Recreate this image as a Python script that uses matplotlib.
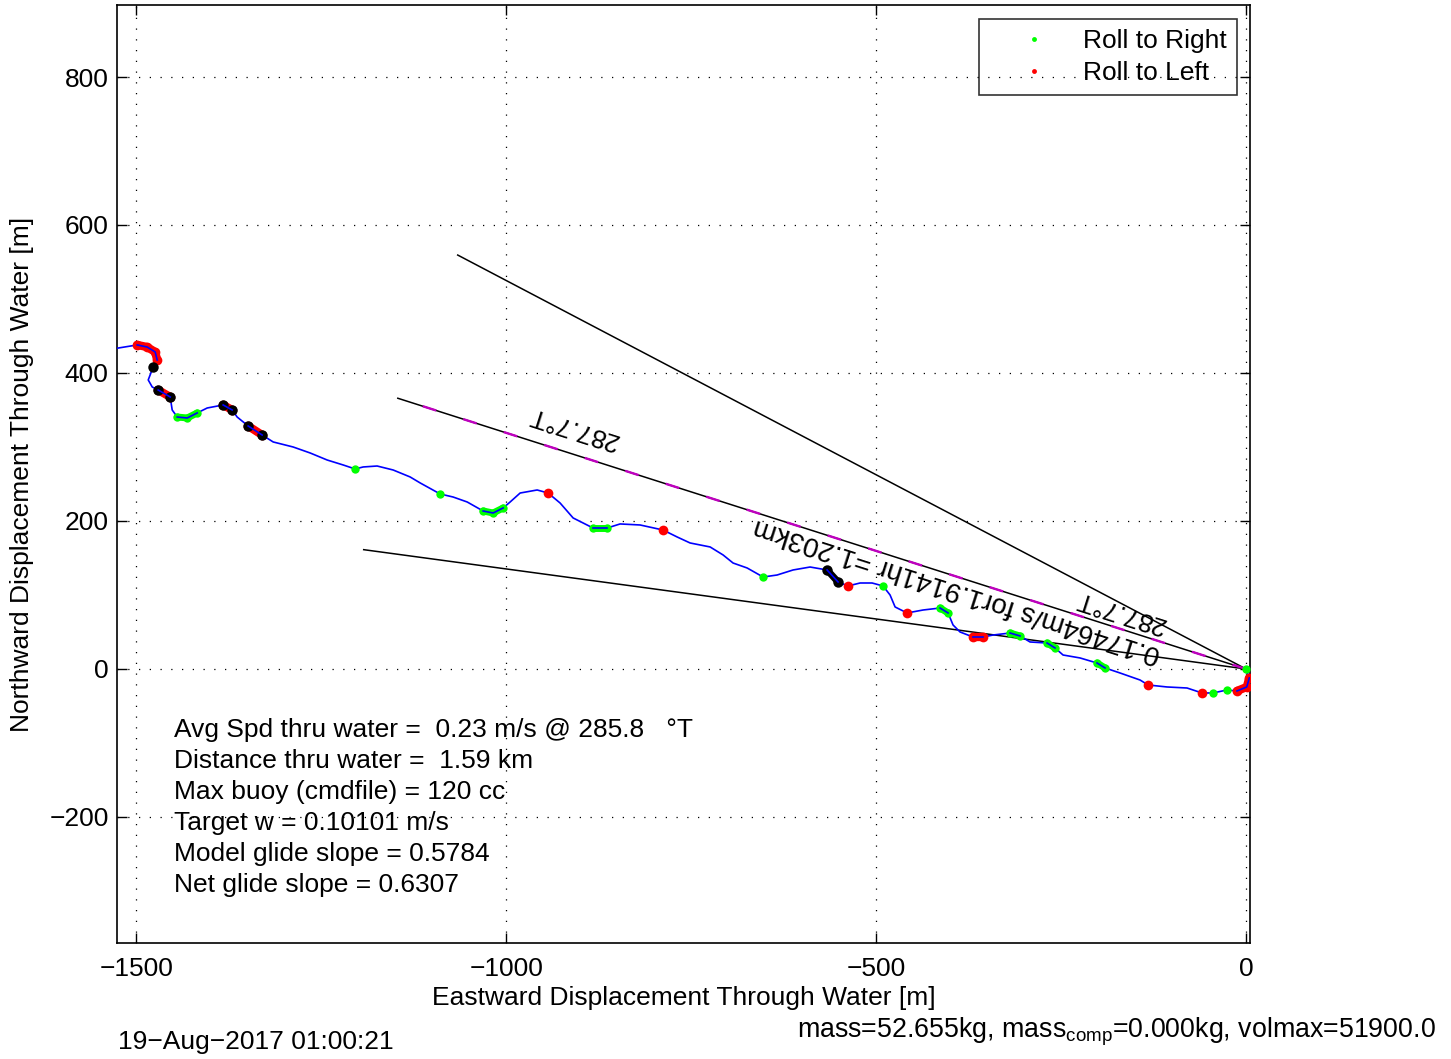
import numpy as np
import matplotlib
matplotlib.use("Agg")
import matplotlib.pyplot as plt
from matplotlib.lines import Line2D

plt.rcParams["font.family"] = ["Liberation Sans", "DejaVu Sans"]
plt.rcParams["font.size"] = 19
plt.rcParams["mathtext.fontset"] = "custom"
plt.rcParams["mathtext.rm"] = "Liberation Sans"

# ----------------------------------------------------------------------
# Data: glider track through water (m), west -> east
# ----------------------------------------------------------------------
track_x = [-1535.0, -1498.7, -1485.2, -1474.4, -1471.7, -1477.1, -1483.8, -1478.4,
           -1470.3, -1454.1, -1451.4, -1444.6, -1431.1, -1417.6, -1404.1, -1382.5,
           -1370.3, -1363.6, -1348.7, -1329.8, -1314.9, -1287.9, -1264.9, -1241.9,
           -1220.3, -1204.1, -1193.3, -1174.4, -1152.7, -1129.8, -1116.2, -1089.2,
           -1071.7, -1052.7, -1031.1, -1017.6, -1004.1, -994.6, -981.1, -958.1,
           -943.3, -927.1, -909.5, -882.5, -863.5, -846.0, -818.9, -787.9,
           -768.9, -751.4, -724.3, -706.8, -693.3, -674.3, -652.7, -633.8,
           -612.2, -589.2, -566.2, -551.4, -537.9, -521.6, -505.4, -490.6,
           -481.1, -474.3, -458.1, -436.5, -413.5, -402.7, -396.0, -386.5,
           -368.9, -355.4, -341.9, -318.9, -305.4, -291.9, -268.9, -258.1,
           -247.3, -224.3, -201.4, -190.5, -170.3, -143.2, -132.4, -106.8,
           -79.7, -59.5, -44.6, -25.7, -12.2, 1.0, 4.5, 0.0]
track_y = [432.0, 437.9, 435.1, 428.4, 417.6, 408.1, 390.6, 381.1,
           377.0, 367.6, 350.0, 340.5, 339.2, 346.0, 352.7, 356.8,
           350.0, 340.5, 328.4, 316.2, 306.8, 300.0, 291.9, 282.4,
           275.7, 270.3, 273.0, 274.3, 268.9, 259.5, 251.4, 236.5,
           232.4, 225.7, 213.5, 210.8, 217.6, 225.7, 237.8, 241.9,
           237.8, 224.3, 204.1, 190.5, 190.5, 196.0, 194.6, 187.8,
           178.4, 170.3, 164.9, 154.1, 143.2, 136.5, 124.3, 127.0,
           133.8, 137.8, 133.8, 117.6, 112.2, 116.2, 116.2, 112.2,
           100.0, 83.8, 75.7, 79.7, 82.4, 75.7, 59.5, 50.0,
           43.2, 43.2, 45.9, 48.6, 44.6, 36.5, 35.1, 28.4,
           18.9, 14.9, 8.1, 1.4, -5.4, -14.9, -21.6, -24.3,
           -25.7, -32.4, -32.4, -28.4, -29.7, -24.3, -12.0, 0.0]

# roll events as (first, last) index ranges into the track
roll_right = [(11, 13), (25, 25), (31, 31), (34, 36), (43, 44), (54, 54),
              (63, 63), (68, 69), (75, 76), (78, 79), (82, 83), (90, 90),
              (91, 91), (95, 95)]
roll_left = [(1, 4), (8, 9), (15, 16), (18, 19), (40, 40), (47, 47), (60, 60),
             (66, 66), (72, 73), (86, 86), (89, 89), (92, 94)]
roll_none = [(5, 5), (8, 8), (9, 9), (15, 15), (16, 16), (18, 18), (19, 19),
             (58, 59)]

heading = 287.7        # deg true
spread = 10.0          # deg either side
run_dist = 1203.4      # m  (0.17464 m/s for 1.9141 hr)

summary = ["Avg Spd thru water =  0.23 m/s @ 285.8   \u00b0T",
           "Distance thru water =  1.59 km",
           "Max buoy (cmdfile) = 120 cc",
           "Target w = 0.10101 m/s",
           "Model glide slope = 0.5784",
           "Net glide slope = 0.6307"]

x_ticks = [-1500, -1000, -500, 0]
y_ticks = [-200, 0, 200, 400, 600, 800]

# ----------------------------------------------------------------------
fig = plt.figure(figsize=(14.51, 10.59), dpi=100)
ax = fig.add_axes([117 / 1451, 1 - 943 / 1059, 1133 / 1451, 938 / 1059])

tx = np.array(track_x)
ty = np.array(track_y)

# heading fan
for dh in (-spread, spread):
    h = np.deg2rad(heading + dh)
    ax.plot([0, run_dist * np.sin(h)], [0, run_dist * np.cos(h)],
            color="k", lw=1.1, zorder=2)
h = np.deg2rad(heading)
hx, hy = run_dist * np.sin(h), run_dist * np.cos(h)
ax.plot([0, hx], [0, hy], color="k", lw=1.1, zorder=2)
ax.plot([0, hx], [0, hy], color="m", lw=1.7, ls=(0, (6, 12)), zorder=2)

ax.plot(tx, ty, color="b", lw=1.2, zorder=3)


def draw_rolls(ranges, color, lw, ms):
    for a, b in ranges:
        ax.plot(tx[a:b + 1], ty[a:b + 1], color=color, lw=lw, marker="o",
                ms=ms, mec="none", solid_capstyle="round", zorder=4)
        ax.plot(tx[a:b + 1], ty[a:b + 1], color="b", lw=1.2, zorder=5)


draw_rolls(roll_right, (0, 1, 0), 5, 6)
draw_rolls(roll_left, (1, 0, 0), 6, 7)
draw_rolls(roll_none, "k", 5, 7.5)

rot = (90 - heading) % 360
ax.text(-909.5, 325.7, "287.7\u00b0T", rotation=rot, ha="center", va="center",
        rotation_mode="anchor")
ax.text(-390.6, 106.8, "0.17464m/s for1.9141hr =1.203km", rotation=rot,
        ha="center", va="center", rotation_mode="anchor", fontsize=20)
ax.text(-170.3, 77.0, "287.7\u00b0T", rotation=rot, ha="center", va="center",
        rotation_mode="anchor")

for i, line in enumerate(summary):
    ax.text(-1448.7, -82.4 - 41.9 * i, line, ha="left", va="center")

ax.set_xlim(-1526, 5.4)
ax.set_ylim(-370.3, 897.3)
ax.set_xticks(x_ticks)
ax.set_yticks(y_ticks)
ax.tick_params(direction="in", length=7.5, width=1, top=True, right=True)
ax.tick_params(axis="x", pad=10)
ax.tick_params(axis="y", pad=6)
ax.grid(True, color="k", ls=(0, (1, 7.6)), lw=0.9)
for s in ax.spines.values():
    s.set_linewidth(1.2)

ax.set_xlabel("Eastward Displacement Through Water [m]", labelpad=4)
ax.set_ylabel("Northward Displacement Through Water [m]", labelpad=11)

handles = [Line2D([], [], ls="none", marker="o", ms=3.5, mec="none",
                  color=(0, 1, 0), label="Roll to Right"),
           Line2D([], [], ls="none", marker="o", ms=3.5, mec="none",
                  color=(1, 0, 0), label="Roll to Left")]
leg = ax.legend(handles=handles, loc="upper right",
                bbox_to_anchor=(0.9885, 0.985), borderaxespad=0,
                fancybox=False, edgecolor="k", facecolor="none",
                handlelength=3.4, handletextpad=0.15, borderpad=0.38,
                labelspacing=0.3, numpoints=1)
leg.get_frame().set_linewidth(1.2)

fig.text(118 / 1451, 0.009, "19\u2212Aug\u22122017 01:00:21", va="baseline")
fig.text(797 / 1451, 0.0203,
         r"mass=52.655kg, mass$_{\mathrm{comp}}$=0.000kg, volmax=51900.0",
         va="baseline", fontsize=19.3)

fig.savefig("out.png", dpi=100)
